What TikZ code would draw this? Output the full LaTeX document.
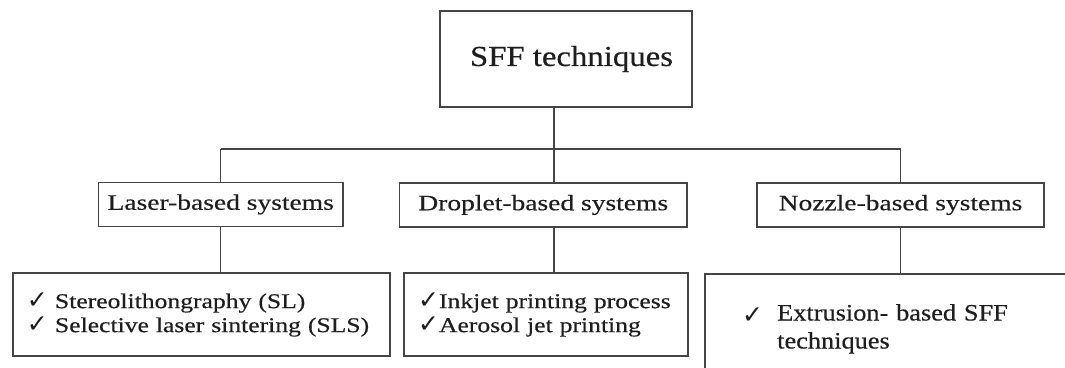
\documentclass[tikz,border=0pt]{standalone}
\usepackage{fontspec}
\setmainfont{Liberation Serif}
\newfontfamily\topf[FakeStretch=1.13,FakeBold=0.4]{Liberation Serif}
\newfontfamily\midf[FakeStretch=1.25,FakeBold=0.4]{Liberation Serif}
\newfontfamily\botf[FakeStretch=1.22,FakeBold=0.4]{Liberation Serif}
\newfontfamily\rtf[FakeStretch=1.12,FakeBold=0.4]{Liberation Serif}
\newfontfamily\symf{DejaVu Sans}
\newcommand{\chk}{{\symf\fontsize{25}{25}\selectfont ✓}}
\newcommand{\chkr}{{\symf\fontsize{25}{25}\selectfont ✓}}
\definecolor{linec}{HTML}{454545}
\definecolor{txtc}{HTML}{1E1E1E}
\begin{document}
\begin{tikzpicture}[x=1pt,y=1pt,
  box/.style={draw=linec, line width=1.1pt, inner sep=0pt, text=txtc},
  conn/.style={draw=linec, line width=1.1pt}]
\useasboundingbox[fill=white] (0,0) rectangle (1065,367);
% top
\node[box, minimum width=252, minimum height=96, font=\topf\fontsize{29}{34}\selectfont] (top) at (566,308) {\hspace*{11pt}SFF techniques};
% middle level
\node[box, minimum width=244.5, minimum height=43.5, font=\midf\fontsize{22}{26}\selectfont] (laser) at (220.75,162.5) {Laser-based systems};
\node[box, minimum width=287.5, minimum height=44, font=\midf\fontsize{22}{26}\selectfont] (drop) at (543.25,162) {Droplet-based systems};
\node[box, minimum width=287, minimum height=44, font=\midf\fontsize{22}{26}\selectfont] (nozzle) at (900.5,162) {Nozzle-based systems};
% bottom level
\node[box, minimum height=83, text width=349, align=left, inner xsep=14, font=\botf\fontsize{21}{24}\selectfont] (bl) at (201.5,52.5)
  {\mbox{\makebox[28pt][l]{\chk}Stereolithongraphy (SL)}\\ \mbox{\makebox[28pt][l]{\chk}Selective laser sintering (SLS)}};
\node[box, minimum height=83, text width=256, align=left, inner xsep=14, font=\botf\fontsize{21}{24}\selectfont] (bm) at (546,52.5)
  {\mbox{\makebox[21pt][l]{\chk}Inkjet printing process}\\ \mbox{\makebox[21pt][l]{\chk}Aerosol jet printing}};
\node[anchor=north west, inner xsep=37, inner ysep=30, text width=300, align=left, text=txtc, font=\rtf\fontsize{23.5}{28}\selectfont] (rt) at (705,93)
  {\mbox{\makebox[35pt][l]{\raisebox{-3pt}{\chkr}}Extrusion- based SFF}\\ \hspace*{35pt}techniques};
\draw[conn] (rt.south west) -- (rt.north west) -- (rt.north east);
% connectors
\coordinate (j) at (554,218);
\draw[conn] (top.south -| j) -- (j);
\draw[conn] (laser.north |- j) -- (nozzle.north |- j);
\draw[conn] (laser.north |- j) -- (laser.north);
\draw[conn] (j) -- (drop.north -| j);
\draw[conn] (nozzle.north |- j) -- (nozzle.north);
\draw[conn] (laser.south) -- (laser.south |- bl.north);
\draw[conn] (drop.south -| j) -- (bm.north -| j);
\draw[conn] (nozzle.south) -- (nozzle.south |- rt.north);
\end{tikzpicture}
\end{document}
